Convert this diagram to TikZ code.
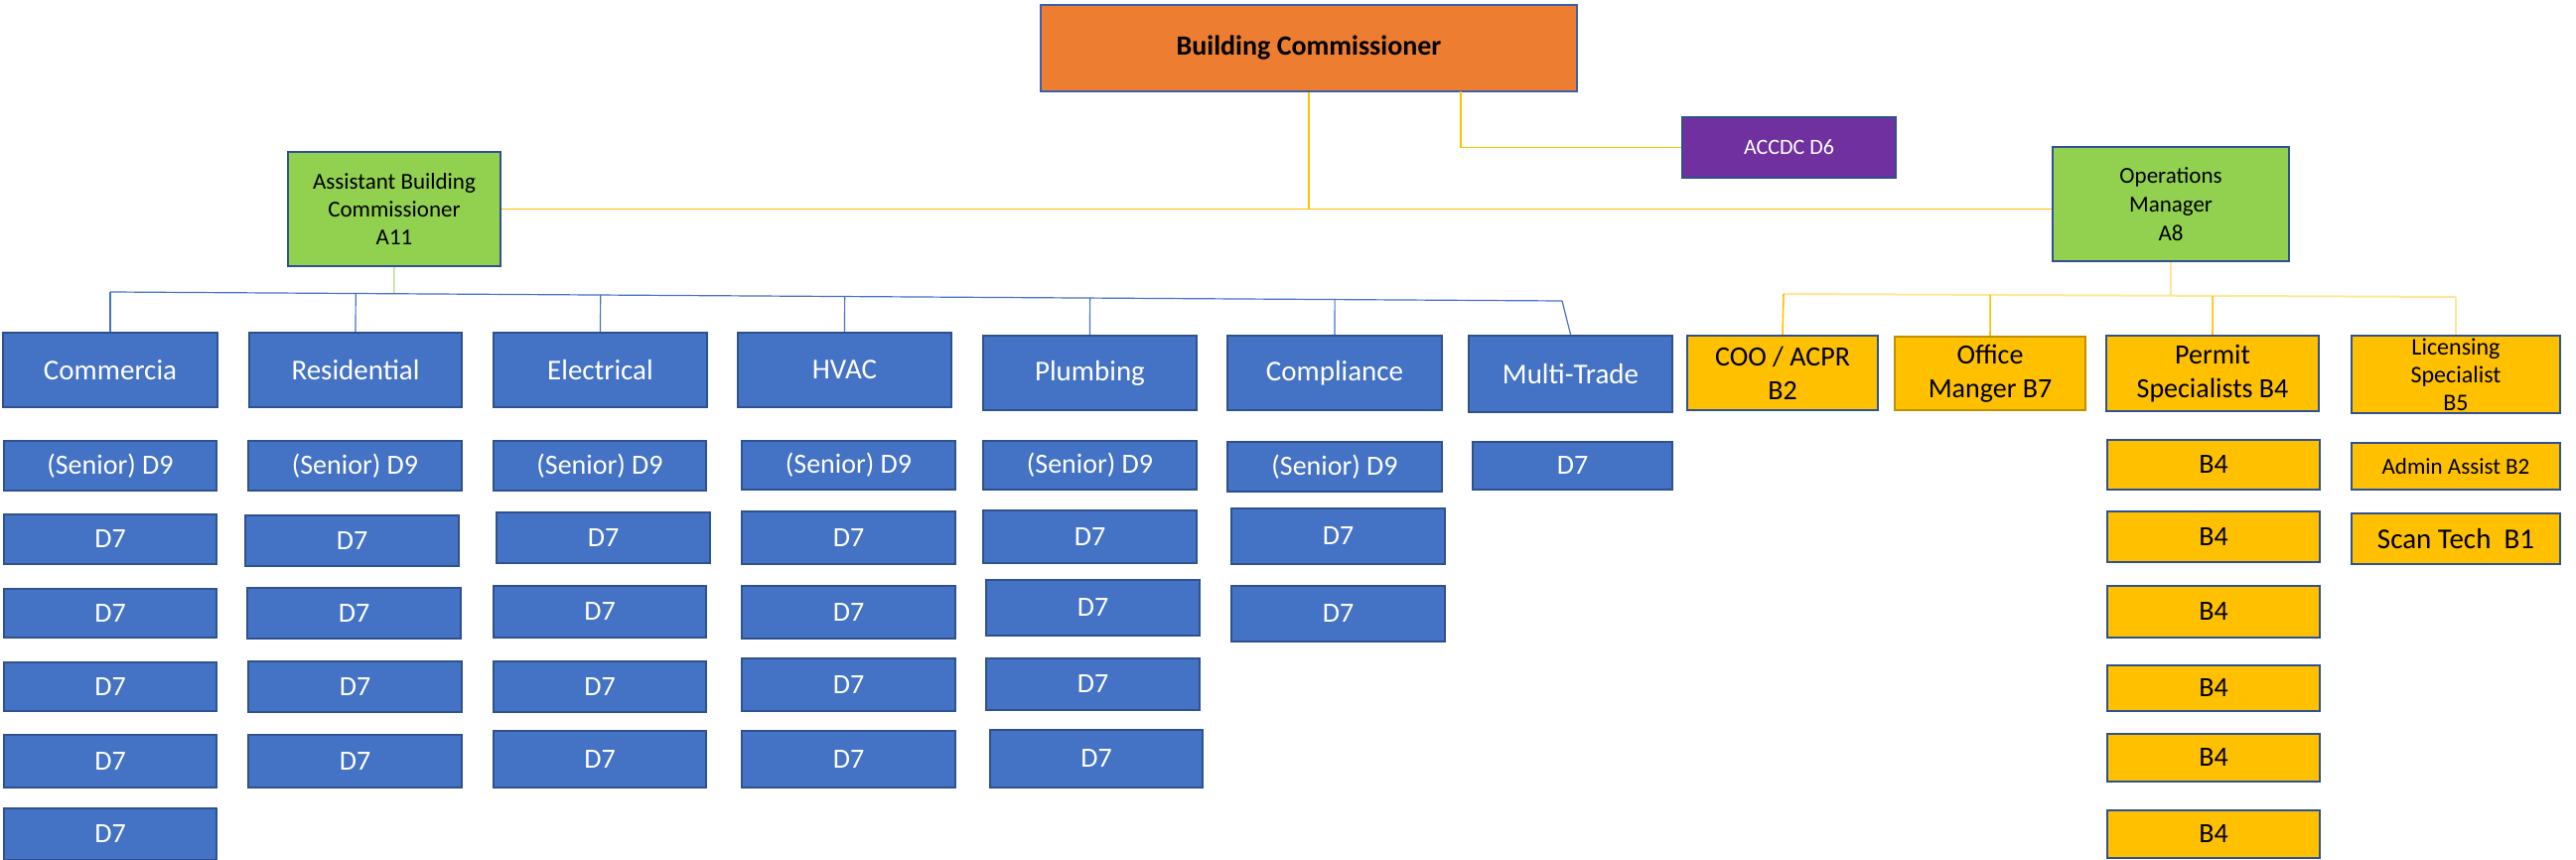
\documentclass[tikz,border=0pt]{standalone}
\usepackage{fontspec}
\setmainfont{Carlito}
\usetikzlibrary{calc}
\definecolor{bfill}{HTML}{4472C4}
\definecolor{bdraw}{HTML}{2F528F}
\definecolor{ofill}{HTML}{ED7D31}
\definecolor{gfill}{HTML}{92D050}
\definecolor{pfill}{HTML}{7030A0}
\definecolor{yfill}{HTML}{FFC000}
\definecolor{ydark}{HTML}{BF9000}
\definecolor{ypale}{HTML}{FFE699}
\newcommand\bx[7]{\node[#6, minimum width={(#4-#2)*0.5}, minimum height={(#5-#3)*0.5}] (#1) at ({(#2+#4)/2},{(#3+#5)/2}) {#7};}
\tikzset{
  box/.style={draw=bdraw, line width=1.2pt, inner sep=0pt, align=center},
  bluehead/.style={box, fill=bfill, text=white, font=\fontsize{14.5}{17}\selectfont},
  bluebox/.style={box, fill=bfill, text=white, font=\fontsize{14}{17}\selectfont},
  goldhead/.style={box, fill=yfill, text=black, font=\fontsize{14}{17}\selectfont},
  goldbox/.style={box, fill=yfill, text=black, font=\fontsize{14}{17}\selectfont},
  greenbox/.style={box, fill=gfill, text=black, font=\fontsize{11.5}{14.2}\selectfont},
  topbox/.style={box, draw=bfill!85!black, fill=ofill, text=black, font=\bfseries\fontsize{14}{17}\selectfont},
  purplebox/.style={box, fill=pfill, text=white, font=\fontsize{11}{13}\selectfont},
  yline/.style={draw=yfill, line width=0.8pt},
  ypline/.style={draw=ypale, line width=1pt},
  bline/.style={draw=bfill, line width=0.6pt},
  gline/.style={draw=gfill, line width=0.5pt}
}
\begin{document}
\begin{tikzpicture}[x=0.5pt, y=-0.5pt]
\useasboundingbox (0,0) rectangle (2594,866);
% top level
\bx{bc}{1048}{5}{1588}{92}{topbox}{Building Commissioner}
\bx{accdc}{1694}{118}{1909}{179}{purplebox}{ACCDC D6}
\bx{abc}{290}{153}{504}{268}{greenbox}{Assistant Building\\Commissioner\\A11}
\bx{om}{2067}{148}{2305}{263}{greenbox, font=\fontsize{11.5}{14.5}\selectfont}{Operations\\Manager\\A8}
% blue headers
\bx{com}{3}{335}{219}{410}{bluehead}{Commercia}
\bx{res}{251}{335}{465}{410}{bluehead}{Residential}
\bx{ele}{497}{335}{712}{410}{bluehead}{Electrical}
\bx{hva}{743}{335}{958}{410}{bluehead}{HVAC}
\bx{plu}{990}{338}{1205}{413}{bluehead}{Plumbing}
\bx{cpl}{1236}{338}{1452}{413}{bluehead}{Compliance}
\bx{mtr}{1479}{338}{1684}{415}{bluehead}{Multi-Trade}
% gold headers
\bx{coo}{1699}{338}{1891}{413}{goldhead}{COO / ACPR\\B2}
\bx{ofm}{1908}{339}{2100}{413}{goldhead, draw=ydark}{Office\\Manger B7}
\bx{per}{2121}{338}{2335}{414}{goldhead}{Permit\\Specialists B4}
\bx{lic}{2368}{338}{2578}{416}{goldhead, font=\fontsize{12}{14}\selectfont}{Licensing\\Specialist\\B5}
% Commercia column
\bx{c1}{4}{444}{218}{494}{bluebox}{(Senior) D9}
\bx{c2}{4}{518}{218}{568}{bluebox}{D7}
\bx{c3}{4}{593}{218}{642}{bluebox}{D7}
\bx{c4}{4}{667}{218}{716}{bluebox}{D7}
\bx{c5}{4}{740}{218}{793}{bluebox}{D7}
\bx{c6}{4}{814}{218}{866}{bluebox}{D7}
% Residential column
\bx{r1}{250}{444}{465}{494}{bluebox}{(Senior) D9}
\bx{r2}{247}{519}{462}{570}{bluebox}{D7}
\bx{r3}{249}{592}{464}{643}{bluebox}{D7}
\bx{r4}{250}{666}{465}{717}{bluebox}{D7}
\bx{r5}{250}{740}{465}{793}{bluebox}{D7}
% Electrical column
\bx{e1}{497}{444}{711}{494}{bluebox}{(Senior) D9}
\bx{e2}{500}{516}{715}{567}{bluebox}{D7}
\bx{e3}{497}{590}{711}{642}{bluebox}{D7}
\bx{e4}{497}{666}{711}{717}{bluebox}{D7}
\bx{e5}{497}{736}{711}{793}{bluebox}{D7}
% HVAC column
\bx{h1}{747}{444}{962}{493}{bluebox}{(Senior) D9}
\bx{h2}{747}{515}{962}{568}{bluebox}{D7}
\bx{h3}{747}{590}{962}{643}{bluebox}{D7}
\bx{h4}{747}{663}{962}{716}{bluebox}{D7}
\bx{h5}{747}{736}{962}{793}{bluebox}{D7}
% Plumbing column
\bx{p1}{990}{444}{1205}{493}{bluebox}{(Senior) D9}
\bx{p2}{990}{514}{1205}{567}{bluebox}{D7}
\bx{p3}{993}{584}{1208}{640}{bluebox}{D7}
\bx{p4}{993}{663}{1208}{715}{bluebox}{D7}
\bx{p5}{997}{735}{1211}{793}{bluebox}{D7}
% Compliance column
\bx{k1}{1236}{445}{1452}{495}{bluebox}{(Senior) D9}
\bx{k2}{1240}{512}{1455}{568}{bluebox}{D7}
\bx{k3}{1240}{590}{1455}{646}{bluebox}{D7}
% Multi-Trade column
\bx{m1}{1483}{445}{1684}{493}{bluebox}{D7}
% Permit column
\bx{b1}{2122}{443}{2336}{493}{goldbox}{B4}
\bx{b2}{2122}{515}{2336}{566}{goldbox}{B4}
\bx{b3}{2122}{590}{2336}{642}{goldbox}{B4}
\bx{b4}{2122}{670}{2336}{716}{goldbox}{B4}
\bx{b5}{2122}{739}{2336}{787}{goldbox}{B4}
\bx{b6}{2122}{816}{2336}{864}{goldbox}{B4}
% Licensing column
\bx{adm}{2368}{446}{2578}{493}{goldbox, font=\fontsize{11.5}{14}\selectfont}{Admin Assist B2}
\bx{scn}{2368}{517}{2578}{568}{goldbox, font=\fontsize{14.5}{17}\selectfont}{Scan Tech\ \ B1}
% connectors: top level
\draw[yline] (abc.east) -- (abc.east -| om.west);
\draw[yline] (bc.south) -- (bc.south |- abc.east);
\coordinate (bcr) at (1471,92);
\draw[yline] (bcr) |- (accdc.west);
% blue bus
\coordinate (bb1) at (111,294);
\coordinate (bb2) at (1573,303);
\draw[gline] (abc.south) -- ($(bb1)!(abc.south)!(bb2)$);
\draw[bline] (bb1) -- (bb2);
\draw[bline] (com.north) -- (bb1);
\foreach \n in {res,ele,hva,plu,cpl}
  \draw[bline] (\n.north) -- ($(bb1)!(\n.north)!(bb2)$);
\draw[bline] (bb2) -- (mtr.north);
% yellow bus
\coordinate (yb1) at (1796,296);
\coordinate (yb2) at (2473,299);
\draw[ypline] (yb1) -- (yb2);
\draw[ypline] (om.south) -- ($(yb1)!(om.south)!(yb2)$);
\draw[yline] (coo.north) -- (yb1);
\foreach \n in {ofm,per}
  \draw[yline] (\n.north) -- ($(yb1)!(\n.north)!(yb2)$);
\draw[ypline] (lic.north) -- (yb2);
\end{tikzpicture}
\end{document}
